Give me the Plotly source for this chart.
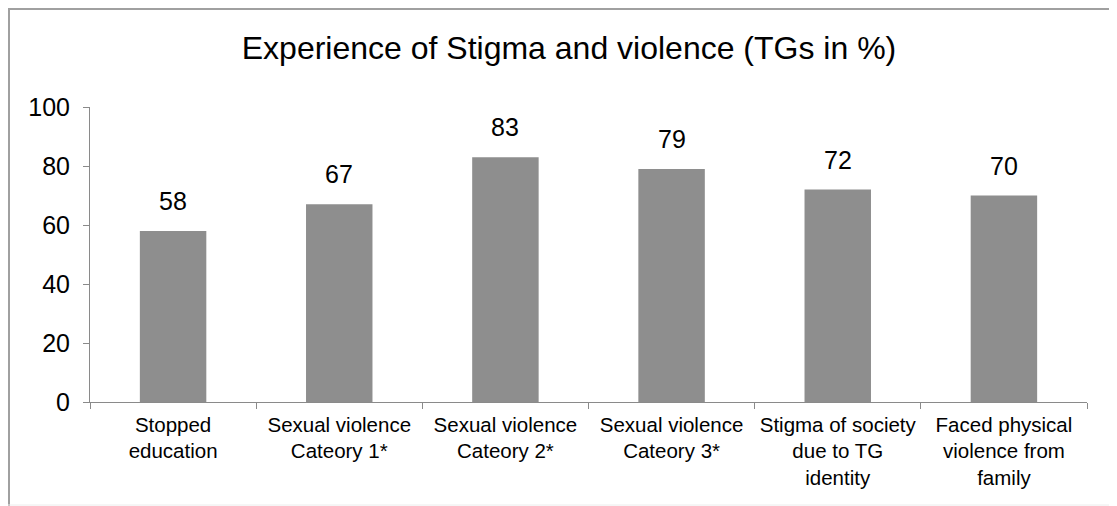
import plotly.graph_objects as go

categories = [
    "Stopped<br>education",
    "Sexual violence<br>Cateory 1*",
    "Sexual violence<br>Cateory 2*",
    "Sexual violence<br>Cateory 3*",
    "Stigma of society<br>due to TG<br>identity",
    "Faced physical<br>violence from<br>family",
]
values = [58, 67, 83, 79, 72, 70]
y_ticks = [0, 20, 40, 60, 80, 100]

# The page body has an 8px margin, so the figure is sized to fit the window.
W, H = 1109, 498
L, R, T, B = 82, 30, 99, 104
pw, ph = W - L - R, H - T - B

def px_x(x):
    return (x - L) / pw

def px_y(y):
    return (H - B - y) / ph

font = "Liberation Sans, Arial, sans-serif"

fig = go.Figure(go.Bar(
    x=categories, y=values,
    marker=dict(color="#8e8e8e", line=dict(width=0)),
    hoverinfo="x+y",
))

for c, v in zip(categories, values):
    fig.add_annotation(
        x=c, y=v, text=str(v), showarrow=False,
        yanchor="middle", yshift=30,
        font=dict(size=25, color="#000000", family=font),
    )

fig.update_layout(
    width=W, height=H,
    margin=dict(l=L, r=R, t=T, b=B),
    paper_bgcolor="white", plot_bgcolor="white",
    bargap=0.6,
    showlegend=False,
    title=dict(text="Experience of Stigma and violence (TGs in %)",
               x=561 / W, xanchor="center", y=1 - 40 / H, yanchor="middle",
               font=dict(size=32, color="#000000", family=font)),
    font=dict(family=font, color="#000000"),
    shapes=[
        dict(type="line", xref="paper", yref="paper",
             x0=px_x(1), x1=px_x(1), y0=px_y(0), y1=px_y(H),
             line=dict(color="#a0a0a0", width=2)),
        dict(type="line", xref="paper", yref="paper",
             x0=px_x(0), x1=px_x(W), y0=px_y(1), y1=px_y(1),
             line=dict(color="#a0a0a0", width=2)),
        dict(type="line", xref="paper", yref="paper",
             x0=px_x(0), x1=px_x(W), y0=px_y(497), y1=px_y(497),
             line=dict(color="#ececec", width=1)),
    ],
)

fig.update_xaxes(
    showline=True, linecolor="#8a8a8a", linewidth=1,
    ticks="outside", tickson="boundaries", ticklen=6, tickcolor="#8a8a8a",
    ticklabelstandoff=4,
    tickfont=dict(size=20.5, color="#000000", family=font),
    showgrid=False, zeroline=False,
)
fig.update_yaxes(
    range=[0, 100], tickvals=y_ticks,
    showline=True, linecolor="#8a8a8a", linewidth=1,
    ticks="outside", ticklen=6, tickcolor="#8a8a8a",
    ticklabelstandoff=8,
    tickfont=dict(size=25, color="#000000", family=font),
    showgrid=False, zeroline=False,
)

fig.write_html("out.html")
